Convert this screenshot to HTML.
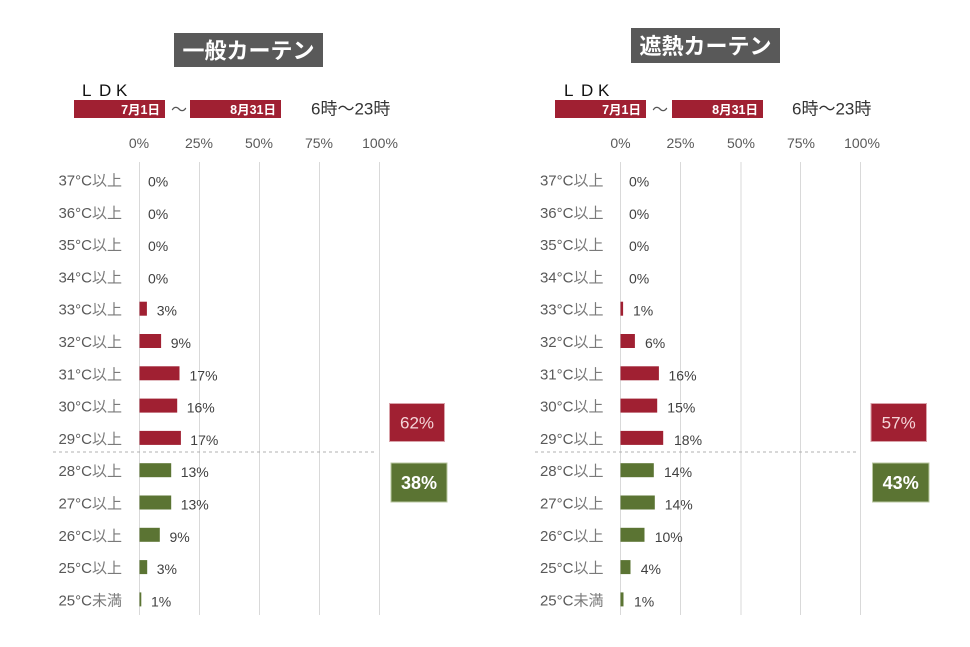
<!DOCTYPE html>
<html><head><meta charset="utf-8"><style>
html,body{margin:0;padding:0;background:#fff;}
svg{display:block;font-family:"Liberation Sans","Noto Sans CJK JP",sans-serif;}
.cat{font-size:15px;fill:#595959;text-anchor:end;}
.cat tspan.k{fill:#7a7a7a;}
.val{font-size:14px;fill:#404040;}
.tick{font-size:14px;fill:#595959;text-anchor:middle;}
.grid{stroke:#d9d9d9;stroke-width:1;}
.ldk{font-size:17px;fill:#111;}
</style></head><body>
<svg width="970" height="647" viewBox="0 0 970 647" xmlns="http://www.w3.org/2000/svg">
<rect width="970" height="647" fill="#fff"/>

<!-- ============ LEFT CHART ============ -->
<rect x="174" y="33" width="149" height="34" fill="#595959"/>
<text x="248.5" y="58.5" font-size="22" font-weight="bold" fill="#fff" text-anchor="middle">一般カーテン</text>
<text class="ldk" x="82" y="96">L</text><text class="ldk" x="99" y="96">D</text><text class="ldk" x="116" y="96">K</text>
<rect x="74" y="100" width="91" height="18" fill="#a02032"/>
<text x="160" y="114" font-size="12.5" font-weight="bold" fill="#fff" text-anchor="end">7月1日</text>
<text x="171" y="115" font-size="16" fill="#555">〜</text>
<rect x="190" y="100" width="91" height="18" fill="#a02032"/>
<text x="276" y="114" font-size="12.5" font-weight="bold" fill="#fff" text-anchor="end">8月31日</text>
<text x="311" y="114.5" font-size="17" fill="#333">6時〜23時</text>

<text class="tick" x="139" y="148">0%</text>
<text class="tick" x="199" y="148">25%</text>
<text class="tick" x="259" y="148">50%</text>
<text class="tick" x="319" y="148">75%</text>
<text class="tick" x="380" y="148">100%</text>

<line class="grid" x1="139.5" y1="162" x2="139.5" y2="615"/>
<line class="grid" x1="199.5" y1="162" x2="199.5" y2="615"/>
<line class="grid" x1="259.5" y1="162" x2="259.5" y2="615"/>
<line class="grid" x1="319.5" y1="162" x2="319.5" y2="615"/>
<line class="grid" x1="379.5" y1="162" x2="379.5" y2="615"/>
<line x1="53" y1="452" x2="377" y2="452" stroke="#b0b0b0" stroke-width="1" stroke-dasharray="3,3"/>

<text class="cat" x="122" y="185.5">37°C<tspan class="k">以上</tspan></text>
<text class="cat" x="122" y="217.8">36°C<tspan class="k">以上</tspan></text>
<text class="cat" x="122" y="250.1">35°C<tspan class="k">以上</tspan></text>
<text class="cat" x="122" y="282.4">34°C<tspan class="k">以上</tspan></text>
<text class="cat" x="122" y="314.7">33°C<tspan class="k">以上</tspan></text>
<text class="cat" x="122" y="347">32°C<tspan class="k">以上</tspan></text>
<text class="cat" x="122" y="379.3">31°C<tspan class="k">以上</tspan></text>
<text class="cat" x="122" y="411.6">30°C<tspan class="k">以上</tspan></text>
<text class="cat" x="122" y="443.9">29°C<tspan class="k">以上</tspan></text>
<text class="cat" x="122" y="476.2">28°C<tspan class="k">以上</tspan></text>
<text class="cat" x="122" y="508.5">27°C<tspan class="k">以上</tspan></text>
<text class="cat" x="122" y="540.8">26°C<tspan class="k">以上</tspan></text>
<text class="cat" x="122" y="573.1">25°C<tspan class="k">以上</tspan></text>
<text class="cat" x="122" y="605.4">25°C<tspan class="k">未満</tspan></text>

<g fill="#a02032">
<rect x="139.5" y="301.7" width="7.4" height="14"/>
<rect x="139.5" y="334" width="21.6" height="14"/>
<rect x="139.5" y="366.3" width="40" height="14"/>
<rect x="139.5" y="398.6" width="37.7" height="14"/>
<rect x="139.5" y="430.9" width="41.4" height="14"/>
</g>
<g fill="#5b7433">
<rect x="139.5" y="463.2" width="31.7" height="14"/>
<rect x="139.5" y="495.5" width="31.7" height="14"/>
<rect x="139.5" y="527.8" width="20.3" height="14"/>
<rect x="139.5" y="560.1" width="7.7" height="14"/>
<rect x="139.5" y="592.4" width="1.8" height="14"/>
</g>

<text class="val" x="148" y="186.5">0%</text>
<text class="val" x="148" y="218.8">0%</text>
<text class="val" x="148" y="251.1">0%</text>
<text class="val" x="148" y="283.4">0%</text>
<text class="val" x="156.7" y="315.7">3%</text>
<text class="val" x="170.7" y="348">9%</text>
<text class="val" x="189.5" y="380.3">17%</text>
<text class="val" x="186.7" y="412.6">16%</text>
<text class="val" x="190.3" y="444.9">17%</text>
<text class="val" x="180.7" y="477.2">13%</text>
<text class="val" x="180.7" y="509.5">13%</text>
<text class="val" x="169.5" y="541.8">9%</text>
<text class="val" x="156.7" y="574.1">3%</text>
<text class="val" x="151" y="606.4">1%</text>

<rect x="389.5" y="403.5" width="55" height="38" fill="#a02032" stroke="#d9a3aa" stroke-width="1"/>
<text x="417" y="428.5" font-size="17" fill="#f5d5d8" text-anchor="middle">62%</text>
<rect x="391" y="463" width="56" height="39" fill="#5b7433" stroke="#b9c7a0" stroke-width="1"/>
<text x="419" y="489" font-size="18" font-weight="bold" fill="#fff" text-anchor="middle">38%</text>

<!-- ============ RIGHT CHART ============ -->
<rect x="631" y="28" width="149" height="35" fill="#595959"/>
<text x="705.5" y="54" font-size="22" font-weight="bold" fill="#fff" text-anchor="middle">遮熱カーテン</text>
<text class="ldk" x="564" y="96">L</text><text class="ldk" x="581" y="96">D</text><text class="ldk" x="598" y="96">K</text>
<rect x="555" y="100" width="91" height="18" fill="#a02032"/>
<text x="641" y="114" font-size="12.5" font-weight="bold" fill="#fff" text-anchor="end">7月1日</text>
<text x="652" y="115" font-size="16" fill="#555">〜</text>
<rect x="672" y="100" width="91" height="18" fill="#a02032"/>
<text x="758" y="114" font-size="12.5" font-weight="bold" fill="#fff" text-anchor="end">8月31日</text>
<text x="792" y="114.5" font-size="17" fill="#333">6時〜23時</text>

<text class="tick" x="620.5" y="148">0%</text>
<text class="tick" x="680.5" y="148">25%</text>
<text class="tick" x="741" y="148">50%</text>
<text class="tick" x="801" y="148">75%</text>
<text class="tick" x="862" y="148">100%</text>

<line class="grid" x1="620.5" y1="162" x2="620.5" y2="615"/>
<line class="grid" x1="680.5" y1="162" x2="680.5" y2="615"/>
<line class="grid" x1="741" y1="162" x2="741" y2="615"/>
<line class="grid" x1="800.5" y1="162" x2="800.5" y2="615"/>
<line class="grid" x1="860.5" y1="162" x2="860.5" y2="615"/>
<line x1="535" y1="452" x2="858" y2="452" stroke="#b0b0b0" stroke-width="1" stroke-dasharray="3,3"/>

<text class="cat" x="603.5" y="185.5">37°C<tspan class="k">以上</tspan></text>
<text class="cat" x="603.5" y="217.8">36°C<tspan class="k">以上</tspan></text>
<text class="cat" x="603.5" y="250.1">35°C<tspan class="k">以上</tspan></text>
<text class="cat" x="603.5" y="282.4">34°C<tspan class="k">以上</tspan></text>
<text class="cat" x="603.5" y="314.7">33°C<tspan class="k">以上</tspan></text>
<text class="cat" x="603.5" y="347">32°C<tspan class="k">以上</tspan></text>
<text class="cat" x="603.5" y="379.3">31°C<tspan class="k">以上</tspan></text>
<text class="cat" x="603.5" y="411.6">30°C<tspan class="k">以上</tspan></text>
<text class="cat" x="603.5" y="443.9">29°C<tspan class="k">以上</tspan></text>
<text class="cat" x="603.5" y="476.2">28°C<tspan class="k">以上</tspan></text>
<text class="cat" x="603.5" y="508.5">27°C<tspan class="k">以上</tspan></text>
<text class="cat" x="603.5" y="540.8">26°C<tspan class="k">以上</tspan></text>
<text class="cat" x="603.5" y="573.1">25°C<tspan class="k">以上</tspan></text>
<text class="cat" x="603.5" y="605.4">25°C<tspan class="k">未満</tspan></text>

<g fill="#a02032">
<rect x="620.5" y="301.7" width="2.6" height="14"/>
<rect x="620.5" y="334" width="14.4" height="14"/>
<rect x="620.5" y="366.3" width="38.4" height="14"/>
<rect x="620.5" y="398.6" width="36.7" height="14"/>
<rect x="620.5" y="430.9" width="42.7" height="14"/>
</g>
<g fill="#5b7433">
<rect x="620.5" y="463.2" width="33.3" height="14"/>
<rect x="620.5" y="495.5" width="34.3" height="14"/>
<rect x="620.5" y="527.8" width="24" height="14"/>
<rect x="620.5" y="560.1" width="10" height="14"/>
<rect x="620.5" y="592.4" width="3" height="14"/>
</g>

<text class="val" x="629" y="186.5">0%</text>
<text class="val" x="629" y="218.8">0%</text>
<text class="val" x="629" y="251.1">0%</text>
<text class="val" x="629" y="283.4">0%</text>
<text class="val" x="633" y="315.7">1%</text>
<text class="val" x="645" y="348">6%</text>
<text class="val" x="668.5" y="380.3">16%</text>
<text class="val" x="667.3" y="412.6">15%</text>
<text class="val" x="674" y="444.9">18%</text>
<text class="val" x="664" y="477.2">14%</text>
<text class="val" x="664.7" y="509.5">14%</text>
<text class="val" x="654.7" y="541.8">10%</text>
<text class="val" x="640.7" y="574.1">4%</text>
<text class="val" x="634" y="606.4">1%</text>

<rect x="871" y="403.5" width="55.5" height="38" fill="#a02032" stroke="#d9a3aa" stroke-width="1"/>
<text x="898.7" y="428.5" font-size="17" fill="#f5d5d8" text-anchor="middle">57%</text>
<rect x="872.5" y="463" width="56.5" height="39" fill="#5b7433" stroke="#b9c7a0" stroke-width="1"/>
<text x="900.7" y="489" font-size="18" font-weight="bold" fill="#fff" text-anchor="middle">43%</text>
</svg>
</body></html>
